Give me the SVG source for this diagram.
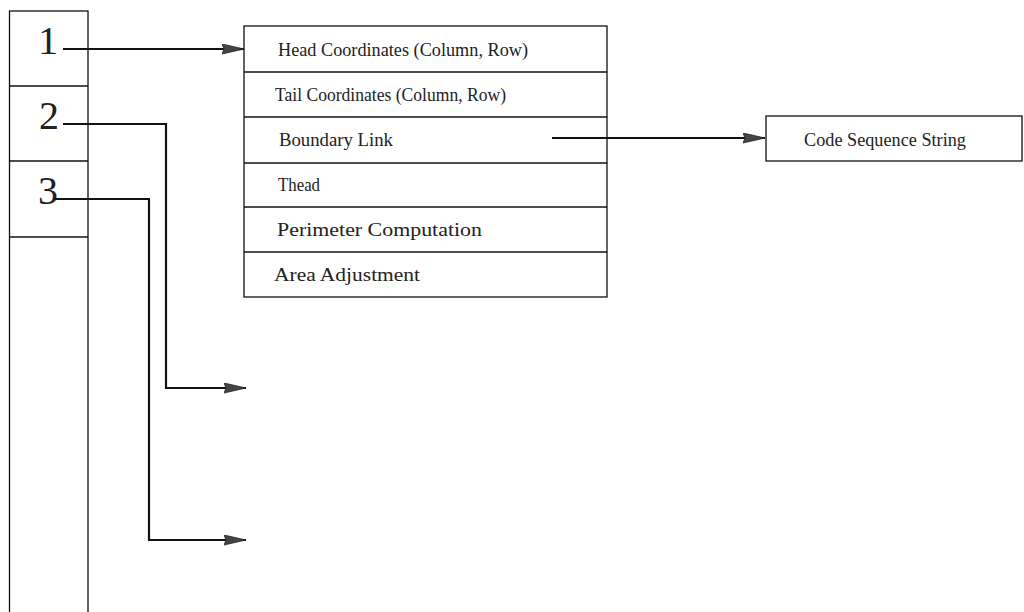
<svg xmlns="http://www.w3.org/2000/svg" width="1024" height="612" viewBox="0 0 1024 612">
<style>
.box{fill:#fff;stroke:#111;stroke-width:1.3}
.div{stroke:#111;stroke-width:1.3}
.t{font-family:"Liberation Serif","Times New Roman",serif;font-size:18px;fill:#222}
.num{font-family:"Liberation Serif","Times New Roman",serif;font-size:40px;fill:#222;text-anchor:middle}
.conn{fill:none;stroke:#111;stroke-width:2.2;marker-end:url(#ah)}
</style>
<defs>
<marker id="ah" markerUnits="userSpaceOnUse" markerWidth="24" markerHeight="12" refX="22" refY="5.5" orient="auto">
<path d="M0,0.5 L22,5.5 L0,10.5 L2,5.5 z" fill="#444" stroke="#222" stroke-width="0.8"/>
</marker>
</defs>
<rect width="1024" height="612" fill="#fff"/>
<g id="index-column">
<rect class="box" x="9.5" y="11" width="78.5" height="610"/>
<line class="div" x1="9.5" y1="86" x2="88" y2="86"/>
<line class="div" x1="9.5" y1="161" x2="88" y2="161"/>
<line class="div" x1="9.5" y1="237" x2="88" y2="237"/>
<text class="num" x="48" y="54">1</text>
<text class="num" x="49" y="129">2</text>
<text class="num" x="48" y="204">3</text>
</g>
<g id="record-table">
<rect class="box" x="244" y="26" width="363" height="271"/>
<line class="div" x1="244" y1="72" x2="607" y2="72"/>
<line class="div" x1="244" y1="117" x2="607" y2="117"/>
<line class="div" x1="244" y1="163" x2="607" y2="163"/>
<line class="div" x1="244" y1="207" x2="607" y2="207"/>
<line class="div" x1="244" y1="252" x2="607" y2="252"/>
<text class="t" x="278" y="56" textLength="250" lengthAdjust="spacingAndGlyphs">Head Coordinates (Column, Row)</text>
<text class="t" x="275" y="101" textLength="231" lengthAdjust="spacingAndGlyphs">Tail Coordinates (Column, Row)</text>
<text class="t" x="279" y="146" textLength="114" lengthAdjust="spacingAndGlyphs">Boundary Link</text>
<text class="t" x="278" y="191" textLength="42" lengthAdjust="spacingAndGlyphs">Thead</text>
<text class="t" x="277" y="236" textLength="205" lengthAdjust="spacingAndGlyphs">Perimeter Computation</text>
<text class="t" x="274" y="281" textLength="146" lengthAdjust="spacingAndGlyphs">Area Adjustment</text>
</g>
<g id="code-sequence">
<rect class="box" x="766" y="116" width="256" height="45"/>
<text class="t" x="804" y="146" textLength="162" lengthAdjust="spacingAndGlyphs">Code Sequence String</text>
</g>
<g id="connectors">
<path class="conn" d="M63,49 H244"/>
<path class="conn" d="M63,124 H166 V388 H246"/>
<path class="conn" d="M55,199 H149 V540 H246"/>
<path class="conn" d="M552,138 H765"/>
</g>
</svg>
